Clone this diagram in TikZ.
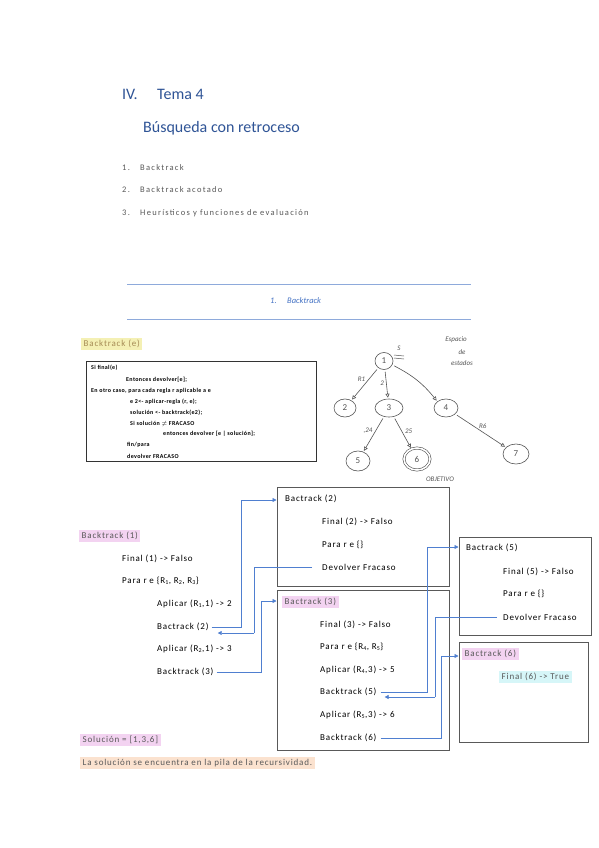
\documentclass[tikz,border=0pt]{standalone}
\usepackage{fontspec}
\setmainfont{Carlito}
\newfontfamily\spacedfont[LetterSpace=15]{Carlito}
\newfontfamily\loosefont[LetterSpace=9]{Carlito}
\newfontfamily\codefont[LetterSpace=6]{Carlito}
\usetikzlibrary{arrows.meta,calc,positioning,shapes.geometric}
\definecolor{headblue}{HTML}{2F5496}
\definecolor{ruleblue}{HTML}{8EAADB}
\definecolor{secblue}{HTML}{4472C4}
\definecolor{linkblue}{HTML}{4F7FD0}
\definecolor{softgray}{HTML}{595959}
\definecolor{hlyellow}{HTML}{F4F0B4}
\definecolor{hlpink}{HTML}{F3D3F1}
\definecolor{hlcyan}{HTML}{D6F6F8}
\definecolor{hlpeach}{HTML}{FBE2CF}
\definecolor{pencil}{HTML}{555555}

\begin{document}
\begin{tikzpicture}[
    x=1pt, y=-1pt,
    head/.style={anchor=west, inner sep=0pt, text=headblue, font=\fontsize{16}{18}\selectfont},
    listtxt/.style={anchor=west, inner sep=0pt, text=softgray, font=\spacedfont\fontsize{8.5}{10}\selectfont},
    sec/.style={anchor=west, inner sep=0pt, text=secblue, font=\fontsize{8.5}{10}\selectfont\itshape},
    rule/.style={ruleblue, line width=0.8pt},
    code/.style={anchor=west, inner sep=0pt, font=\codefont\fontsize{6}{7}\selectfont\bfseries},
    codebox/.style={draw=black!80, line width=0.8pt},
    txt/.style={anchor=west, inner sep=0pt, font=\loosefont\fontsize{9}{10}\selectfont},
    hl/.style={anchor=west, inner xsep=2.5pt, inner ysep=2pt, text=softgray, font=\loosefont\fontsize{9}{10}\selectfont},
    hlpinkbox/.style={hl, fill=hlpink},
    frame/.style={draw=softgray, line width=1pt},
    link/.style={draw=linkblue, line width=0.7pt, -{Triangle[length=4pt,width=4pt]}},
    state/.style={draw=pencil, ellipse, line width=0.6pt, inner sep=1pt, text=pencil, font=\fontsize{9}{10}\selectfont},
    hand/.style={text=pencil, inner sep=0pt, font=\fontsize{7}{8}\selectfont\itshape},
    move/.style={draw=pencil, line width=0.6pt, shorten >=1pt, shorten <=2pt, -{Triangle[open,length=4pt,width=4pt]}}
  ]
  \useasboundingbox (0,0) rectangle (599,848);
  \fill[white] (0,0) rectangle (599,848);

  % heading
  \node[head] (roman) at (122,94) {IV.};
  \node[head] (tema) at (157,94) {Tema 4};
  \node[head] (subtitle) at (143,128) {Búsqueda con retroceso};

  % contents list
  \node[listtxt] (num1) at (122,168) {1.};
  \node[listtxt] (item1) at (140,168) {Backtrack};
  \node[listtxt] (num2) at (122,190) {2.};
  \node[listtxt] (item2) at (140,190) {Backtrack acotado};
  \node[listtxt] (num3) at (122,213) {3.};
  \node[listtxt] (item3) at (140,213) {Heurísticos y funciones de evaluación};

  % section title between rules
  \draw[rule] (127,284) -- (471,284);
  \draw[rule] (127,319) -- (471,319);
  \node[sec] (secnum) at (270,301) {1.};
  \node[sec] (sectitle) at (287,301) {Backtrack};

  % pseudocode
  \node[hl, fill=hlyellow, text=black!60!yellow!40!brown] (bte) at (81,344) {Backtrack (e)};
  \draw[codebox] (86,361) rectangle (316,461);
  \node[code] (c1) at (91,368) {Si final(e)};
  \node[code] (c2) at (126,380) {Entonces devolver[e];};
  \node[code] (c3) at (91,391) {En otro caso, para cada regla r aplicable a e};
  \node[code] (c4) at (130,402) {e 2<- aplicar-regla (r, e);};
  \node[code] (c5) at (130,413) {solución <- backtrack(e2);};
  \node[code] (c6) at (130,424) {Si solución $\neq$ FRACASO};
  \node[code] (c7) at (163,434) {entonces devolver [e | solución];};
  \node[code] (c8) at (127,445) {fin/para};
  \node[code] (c9) at (127,456) {devolver FRACASO};

  % sketched state space
  \node[state, minimum width=18pt, minimum height=17pt] (s1) at (384,361) {1};
  \node[state, minimum width=22pt, minimum height=18pt] (s2) at (345,408) {2};
  \node[state, minimum width=28pt, minimum height=18pt] (s3) at (389,408) {3};
  \node[state, minimum width=24pt, minimum height=18pt] (s4) at (446,408) {4};
  \node[state, minimum width=24pt, minimum height=20pt] (s5) at (358,461) {5};
  \node[state, minimum width=26pt, minimum height=22pt, double, double distance=1.6pt] (s6) at (417,459) {6};
  \node[state, minimum width=26pt, minimum height=20pt] (s7) at (516,454) {7};
  \draw[move] (s1) -- (s2) node[hand, pos=0.45, above left=1pt] (r1) {R1};
  \draw[move] (s1) -- (s3) node[hand, pos=0.45, left=2pt] (r2) {2};
  \draw[move] (s1) to[bend left=12] (s4.north west) node[hand, pos=0.5, above right=0pt] (r3) {23};
  \draw[move] (s3) -- (s5) node[hand, pos=0.4, left=3pt] (r4) {,24};
  \draw[move] (s3) -- (s6) node[hand, pos=0.45, right=3pt] (r5) {25};
  \draw[move] (s4) -- (s7) node[hand, pos=0.45, above right=1pt] (r6) {R6};
  \node[hand] (sname) at (399,348) {S};
  \draw[pencil, line width=0.5pt] (394,355) -- (404,356) (394,358) -- (404,359);
  \node[hand] (esp1) at (456,340) {Espacio};
  \node[hand] (esp2) at (462,352) {de};
  \node[hand] (esp3) at (462,363) {estados};
  \node[hand] (goal) at (440,479) {OBJETIVO};

  % call Backtrack (1)
  \node[hlpinkbox] (b1) at (79,536) {Backtrack (1)};
  \node[txt] (b1fin) at (122,559) {Final (1) -> Falso};
  \node[txt] (b1para) at (122,581) {Para r e \{R\textsubscript{1}, R\textsubscript{2}, R\textsubscript{3}\}};
  \node[txt] (b1ap1) at (157,604) {Aplicar (R\textsubscript{1},1) -> 2};
  \node[txt] (b1c2) at (157,627) {Bactrack (2)};
  \node[txt] (b1ap2) at (157,649) {Aplicar (R\textsubscript{2},1) -> 3};
  \node[txt] (b1c3) at (157,672) {Backtrack (3)};

  % call Backtrack (2)
  \node[frame, minimum width=172pt, minimum height=99pt] (box2) at (363,536.5) {};
  \node[txt] (b2) at (285,499) {Bactrack (2)};
  \node[txt] (b2fin) at (322,522) {Final (2) -> Falso};
  \node[txt] (b2para) at (322,545) {Para r e \{\}};
  \node[txt] (b2dev) at (322,567) {Devolver Fracaso};

  % call Backtrack (3)
  \node[frame, minimum width=172pt, minimum height=160pt] (box3) at (363,670) {};
  \node[hlpinkbox] (b3) at (282,602) {Bactrack (3)};
  \node[txt] (b3fin) at (320,625) {Final (3) -> Falso};
  \node[txt] (b3para) at (320,647) {Para r e \{R\textsubscript{4}, R\textsubscript{5}\}};
  \node[txt] (b3ap4) at (320,670) {Aplicar (R\textsubscript{4},3) -> 5};
  \node[txt] (b3c5) at (320,692) {Backtrack (5)};
  \node[txt] (b3ap5) at (320,715) {Aplicar (R\textsubscript{5},3) -> 6};
  \node[txt] (b3c6) at (320,738) {Backtrack (6)};

  % call Backtrack (5)
  \node[frame, minimum width=132pt, minimum height=98pt] (box5) at (525,586) {};
  \node[txt] (b5) at (466,548) {Bactrack (5)};
  \node[txt] (b5fin) at (503,572) {Final (5) -> Falso};
  \node[txt] (b5para) at (503,594) {Para r e \{\}};
  \node[txt] (b5dev) at (503,617) {Devolver Fracaso};

  % call Backtrack (6)
  \node[frame, minimum width=129pt, minimum height=100pt] (box6) at (523.5,692) {};
  \node[hlpinkbox] (b6) at (462,654) {Bactrack (6)};
  \node[hl, fill=hlcyan] (b6fin) at (499,677) {Final (6) -> True};

  % bends of the connectors
  \coordinate (bendA) at (241,500);
  \coordinate (bendB) at (254,633);
  \coordinate (bendC) at (261,601);
  \coordinate (bendD) at (427,547);
  \coordinate (bendE) at (435,697);
  \coordinate (bendF) at (441,656);

  % calls and returns
  \draw[link] ([xshift=3pt]b1c2.east) -| (bendA) -- (box2.west |- bendA);
  \draw[link, -] ([xshift=-10pt]b2dev.west) -| (bendB);
  \draw[link] (bendB) -- ([xshift=9pt]b1c2.east |- bendB);
  \draw[link] ([xshift=3pt]b1c3.east) -| (bendC) -- (box3.west |- bendC);
  \draw[link] ([xshift=4pt]b3c5.east) -| (bendD) -- (box5.west |- bendD);
  \draw[link, -] ([xshift=-6pt]b5dev.west) -| (bendE);
  \draw[link] (bendE) -- ([xshift=8pt]b3c5.east |- bendE);
  \draw[link] ([xshift=4pt]b3c6.east) -| (bendF) -- (box6.west |- bendF);

  % result
  \node[hlpinkbox] (sol) at (80,740) {Solución = [1,3,6]};
  \node[hl, fill=hlpeach] (pila) at (80,763) {La solución se encuentra en la pila de la recursividad.};
\end{tikzpicture}
\end{document}
